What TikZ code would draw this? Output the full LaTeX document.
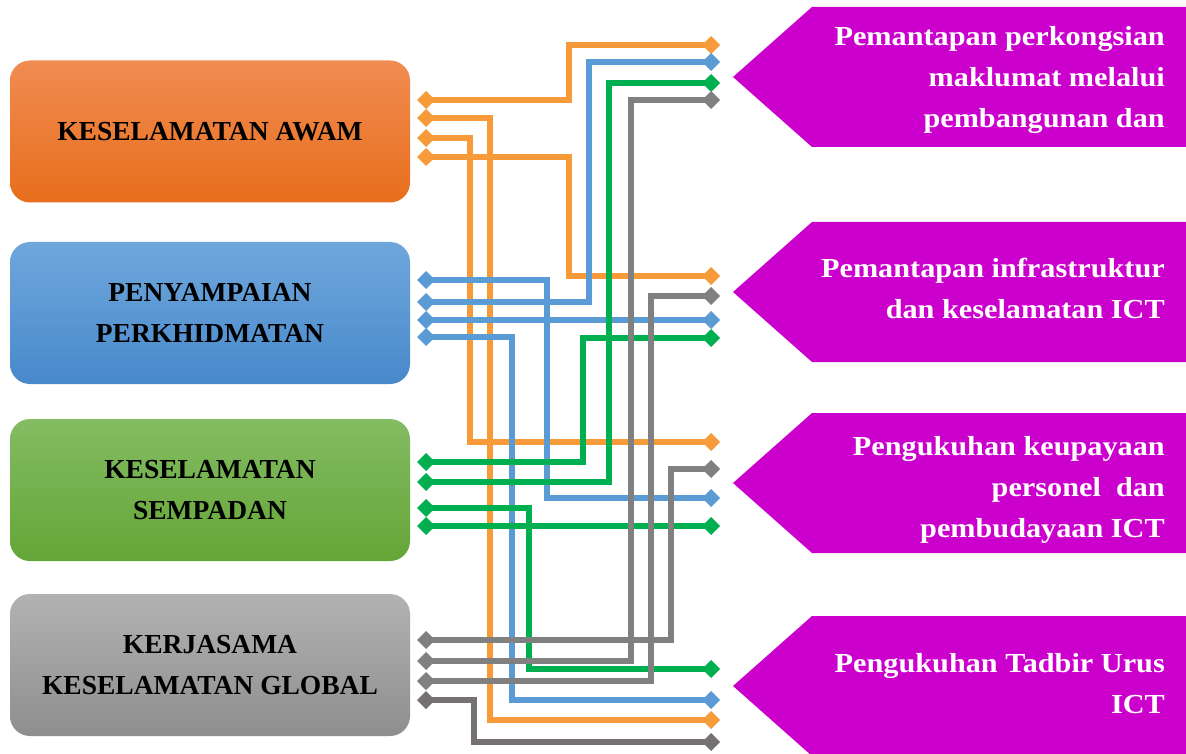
\documentclass[tikz,border=0pt]{standalone}
\usepackage{fontspec}
\setmainfont{Liberation Serif}
\newfontfamily\widefont[FakeStretch=1.1]{Liberation Serif}
\usetikzlibrary{arrows.meta}
\definecolor{cOr}{HTML}{F79A3A}
\definecolor{cBl}{HTML}{5B9BD5}
\definecolor{cGr}{HTML}{00B050}
\definecolor{cGy}{HTML}{808080}
\definecolor{cGyB}{HTML}{767171}
\definecolor{cMag}{HTML}{CC00CC}
\begin{document}
\begin{tikzpicture}[x=1pt,y=-1pt,
  box/.style={minimum width=400pt, minimum height=142pt, inner sep=0pt,
    rounded corners=20pt, align=center,
    font=\bfseries\fontsize{27.5}{41}\selectfont},
  rt/.style={text=white, align=right, inner sep=0pt,
    font=\widefont\bfseries\fontsize{27.5}{41}\selectfont},
  conn/.style={line width=5.5pt,
    {Diamond[length=18pt,width=18pt]}-{Diamond[length=18pt,width=18pt]}},
  ol/.style={conn, cOr}, bl/.style={conn, cBl}, gl/.style={conn, cGr},
  yl/.style={conn, cGy}, ylb/.style={conn, cGyB}]
\useasboundingbox (0,0) rectangle (1186,754);
\fill[white] (0,0) rectangle (1186,754);

% left boxes
\node[box, top color={rgb,255:red,240;green,140;blue,82}, bottom color={rgb,255:red,232;green,110;blue,28}] (b1) at (210,131.5) {KESELAMATAN AWAM};
\node[box, top color={rgb,255:red,111;green,167;blue,220}, bottom color={rgb,255:red,72;green,137;blue,203}] (b2) at (210,313) {PENYAMPAIAN\\PERKHIDMATAN};
\node[box, top color={rgb,255:red,132;green,188;blue,99}, bottom color={rgb,255:red,100;green,165;blue,54}] (b3) at (210,490) {KESELAMATAN\\SEMPADAN};
\node[box, top color={rgb,255:red,178;green,178;blue,178}, bottom color={rgb,255:red,142;green,142;blue,142}] (b4) at (210,665) {KERJASAMA\\KESELAMATAN GLOBAL};

% right arrows
\fill[cMag] (733,77) -- (812,7) -- (1186,7) -- (1186,147) -- (812,147) -- cycle;
\fill[cMag] (733,292) -- (812,222) -- (1186,222) -- (1186,362) -- (812,362) -- cycle;
\fill[cMag] (733,483) -- (812,413) -- (1186,413) -- (1186,553) -- (812,553) -- cycle;
\fill[cMag] (733,686) -- (812,616) -- (1186,616) -- (1186,756) -- (812,756) -- cycle;
\node[rt, anchor=base east] (t1) at (1165,128) {Pemantapan perkongsian\\maklumat melalui\\pembangunan dan};
\node[rt, anchor=base east] (t2) at (1165,318) {Pemantapan infrastruktur\\dan keselamatan ICT};
\node[rt, anchor=base east] (t3) at (1165,537) {Pengukuhan keupayaan\\personel\ \ dan\\pembudayaan ICT};
\node[rt, anchor=base east] (t4) at (1165,713) {Pengukuhan Tadbir Urus\\ICT};

% endpoints left
\foreach \n/\y in {LO1/100,LO2/118,LO3/138,LO4/157,LB1/280,LB2/302,LB3/320,LB4/337,
  LG1/462,LG2/482,LG3/508,LG4/526,LY1/640,LY2/661,LY3/681,LY4/700}
  \coordinate (\n) at (417,\y);
% endpoints right
\foreach \n/\y in {R1o/45,R1b/62,R1g/83,R1y/100,R2o/276,R2y/296,R2b/320,R2g/338,
  R3o/442,R3y/469,R3b/498,R3g/526,R4g/669,R4b/700,R4o/720,R4y/742}
  \coordinate (\n) at (720,\y);
% columns
\foreach \n/\x in {cO1/569,cO2/490,cO3/470,cB1/547,cB2/589,cB4/512,cG1/583,cG2/609,cG3/529,
  cY1/671,cY2/631,cY3/651,cY4/474}
  \coordinate (\n) at (\x,0);

% connectors
\draw[ol] (LO1) -| (cO1 |- R1o) -- (R1o);
\draw[ol] (LO2) -| (cO2 |- R4o) -- (R4o);
\draw[ol] (LO3) -| (cO3 |- R3o) -- (R3o);
\draw[ol] (LO4) -| (cO1 |- R2o) -- (R2o);
\draw[bl] (LB1) -| (cB1 |- R3b) -- (R3b);
\draw[bl] (LB2) -| (cB2 |- R1b) -- (R1b);
\draw[bl] (LB3) -- (R2b);
\draw[bl] (LB4) -| (cB4 |- R4b) -- (R4b);
\draw[gl] (LG1) -| (cG1 |- R2g) -- (R2g);
\draw[gl] (LG2) -| (cG2 |- R1g) -- (R1g);
\draw[gl] (LG3) -| (cG3 |- R4g) -- (R4g);
\draw[gl] (LG4) -- (R3g);
\draw[yl] (LY1) -| (cY1 |- R3y) -- (R3y);
\draw[yl] (LY2) -| (cY2 |- R1y) -- (R1y);
\draw[yl] (LY3) -| (cY3 |- R2y) -- (R2y);
\draw[ylb] (LY4) -| (cY4 |- R4y) -- (R4y);
\end{tikzpicture}
\end{document}
